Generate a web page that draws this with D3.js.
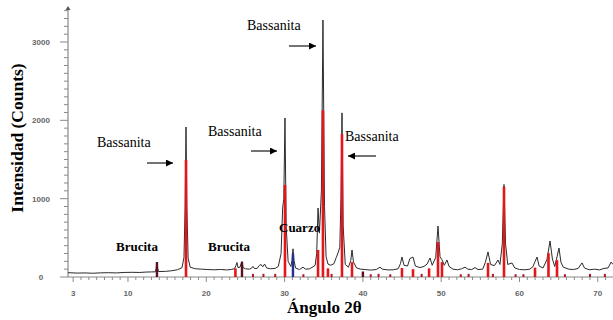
<!DOCTYPE html>
<html><head><meta charset="utf-8">
<script src="https://cdn.jsdelivr.net/npm/d3@7"></script>
<style>html,body{margin:0;padding:0;background:#fff;}svg{display:block;}</style>
</head><body>
<script>
// ---- data (angle 2θ, counts) ----
const xTicksLabeled = [3, 10, 20, 30, 40, 50, 60, 70];
const yTicksLabeled = [0, 1000, 2000, 3000];

const diffractogram = [
 [2.34,55],[3.5,50],[4.5,52],[5.5,48],[6.5,53],[7.5,55],[8.5,52],[9.5,58],[10.5,60],[11.5,58],[12.3,63],[13.0,65],[13.5,66],
 [13.6,110],[13.7,190],[13.8,110],[13.9,70],[14.8,72],[15.6,80],[16.3,92],[16.9,118],[17.15,250],[17.3,900],[17.41,1915],[17.52,900],[17.68,240],[17.95,125],
 [18.6,105],[19.4,100],[20.2,95],[21.0,92],[21.8,96],[22.6,90],[23.2,96],[23.6,105],[23.8,150],[23.92,185],[24.05,120],[24.3,125],[24.45,170],[24.56,200],[24.7,120],[25.0,105],
 [25.5,100],[25.8,115],[25.96,135],[26.15,108],[26.5,110],[26.8,150],[27.0,160],[27.2,130],[27.45,165],[27.7,115],[28.2,105],[28.8,110],[29.2,135],
 [29.55,300],[29.75,880],[29.9,1000],[30.05,2030],[30.2,650],[30.45,200],[30.8,135],[30.95,210],[31.07,360],[31.2,210],[31.4,115],
 [31.9,95],[32.35,125],[32.7,100],[33.2,105],[33.63,130],[33.9,150],[34.1,300],[34.27,880],[34.45,560],[34.7,1100],[34.9,3280],[35.1,900],[35.3,260],
 [35.54,165],[35.9,150],[36.3,170],[36.6,250],[36.82,305],[37.05,380],[37.2,1000],[37.33,2095],[37.48,650],[37.75,160],[38.15,125],[38.45,210],[38.61,345],[38.8,190],[39.2,115],
 [39.7,100],[40.3,95],[41.0,88],[41.7,95],[42.18,125],[42.5,100],[43.2,90],[43.9,92],[44.5,105],[44.8,170],[44.99,255],[45.25,150],[45.7,140],[46.0,235],[46.4,255],[46.7,140],
 [47.3,120],[47.8,135],[48.2,165],[48.57,243],[48.85,150],[49.3,250],[49.59,651],[49.85,260],[50.1,220],[50.4,150],[50.74,217],[51.0,135],[51.5,100],
 [52.1,92],[52.6,105],[53.04,125],[53.4,100],[53.9,95],[54.32,120],[54.7,95],[55.3,100],[55.65,190],[55.98,320],[56.3,160],[56.8,145],[57.25,217],[57.5,160],
 [57.8,420],[58.02,1180],[58.22,420],[58.5,160],[59.04,179],[59.4,115],[60.0,95],[60.7,92],[61.3,100],[61.7,130],[62.0,200],[62.24,255],[62.5,140],
 [63.0,115],[63.5,220],[63.9,460],[64.2,230],[64.5,135],[64.8,260],[65.04,370],[65.3,185],[65.6,125],[66.3,100],[66.9,95],[67.5,110],[67.98,180],[68.3,115],
 [68.9,92],[69.6,100],[70.2,90],[70.8,110],[71.3,115],[71.7,190],[71.94,160]
];

const bassaniteSticks = [
 [17.41,1495],[23.72,110],[30.05,1175],[34.27,345],[34.9,2130],[35.54,110],[37.33,1826],[38.61,190],
 [44.99,115],[46.4,100],[48.45,110],[49.59,447],[50.1,190],[55.98,180],[58.02,1150],[61.98,120],[63.7,305],[64.79,215]
];
const bruciteSticks = [[13.7,190],[24.56,190],[40.0,70]];
const quartzSticks = [[31.07,300]];
const minorSticks = [
 [25.96,40],[27.3,40],[28.8,40],[32.4,35],[36.0,40],[41.0,35],[42.0,40],[43.5,35],[47.5,40],[52.5,35],[53.5,40],
 [56.6,40],[59.5,35],[60.5,35],[65.8,35],[69.0,40],[70.9,40]
];

const annotations = [
 {text:"Bassanita", x:97, y:147, bold:false},
 {text:"Bassanita", x:247, y:30, bold:false},
 {text:"Bassanita", x:208, y:136, bold:false},
 {text:"Bassanita", x:345, y:141, bold:false},
 {text:"Brucita", x:116, y:251, bold:true},
 {text:"Brucita", x:208, y:251, bold:true},
 {text:"Cuarzo", x:279, y:232, bold:true}
];
const arrows = [
 {x1:147, x2:173, y:163},
 {x1:289, x2:316, y:46},
 {x1:251, x2:277, y:151},
 {x1:376, x2:348, y:156}
];

// ---- drawing ----
const W = 613, H = 320;
const svg = d3.select("body").append("svg").attr("width", W).attr("height", H);
svg.append("defs").append("marker")
  .attr("id","ah").attr("viewBox","0 0 10 10").attr("refX",10).attr("refY",5)
  .attr("markerWidth",7).attr("markerHeight",7).attr("markerUnits","userSpaceOnUse").attr("orient","auto")
  .append("path").attr("d","M0,0L10,5L0,10Z").attr("fill","#000");

const x = d3.scaleLinear().domain([2.34, 71.94]).range([68, 613]);
const y = d3.scaleLinear().domain([0, 3434]).range([277, 8]);

// axes
const axisColor = "#8a8a8a";
const xMinor = d3.range(3, 72, 1);
svg.append("g").selectAll("line").data(xMinor).join("line")
  .attr("x1", d => x(d)).attr("x2", d => x(d))
  .attr("y1", y(0)).attr("y2", d => y(0) + (xTicksLabeled.includes(d) ? 5 : 3))
  .attr("stroke", axisColor).attr("stroke-width", 1);
svg.append("line").attr("x1", 68).attr("x2", 613).attr("y1", y(0)).attr("y2", y(0)).attr("stroke", axisColor).attr("stroke-width", 1.2);
svg.append("g").selectAll("text").data(xTicksLabeled).join("text")
  .attr("x", d => x(d)).attr("y", 296).attr("text-anchor", "middle")
  .attr("font-family", "Liberation Sans, Arial, sans-serif").attr("font-size", 8).attr("font-weight", "bold")
  .attr("fill", "#666").text(d => d);

const yMinor = d3.range(0, 3401, 100);
svg.append("g").selectAll("line").data(yMinor).join("line")
  .attr("y1", d => y(d)).attr("y2", d => y(d))
  .attr("x1", d => 68 - (d % 1000 === 0 ? 8 : 4)).attr("x2", 68)
  .attr("stroke", axisColor).attr("stroke-width", 1);
svg.append("line").attr("x1", 68).attr("x2", 68).attr("y1", y(0)).attr("y2", 8).attr("stroke", axisColor).attr("stroke-width", 1.2);
svg.append("path").attr("d", "M65.5,10L68,6L70.5,10Z").attr("fill", "#555");
svg.append("g").selectAll("text").data(yTicksLabeled).join("text")
  .attr("x", 41).attr("y", d => y(d) + 3).attr("text-anchor", "middle")
  .attr("font-family", "Liberation Sans, Arial, sans-serif").attr("font-size", 8).attr("font-weight", "bold")
  .attr("fill", "#666").text(d => d);

// trace
const line = d3.line().x(d => x(d[0])).y(d => y(d[1]));
svg.append("path").datum(diffractogram).attr("d", line)
  .attr("fill", "none").attr("stroke", "#2b2b2b").attr("stroke-width", 1).attr("stroke-linejoin", "round");

function sticks(data, color, w) {
  svg.append("g").selectAll("rect").data(data).join("rect")
    .attr("x", d => x(d[0]) - w / 2).attr("width", w)
    .attr("y", d => y(d[1])).attr("height", d => y(0) - y(d[1]))
    .attr("fill", color);
}
sticks(minorSticks, "#b3142a", 2);
sticks(bassaniteSticks, "#e3161c", 2.6);
sticks(bruciteSticks, "#5a1020", 2.4);
sticks(quartzSticks, "#22308c", 2.4);

// annotations
svg.append("g").selectAll("text").data(annotations).join("text")
  .attr("x", d => d.x).attr("y", d => d.y)
  .attr("font-family", "Liberation Serif, Times New Roman, serif")
  .attr("font-size", d => d.bold ? 13 : 14)
  .attr("font-weight", d => d.bold ? "bold" : "normal")
  .attr("fill", "#000").text(d => d.text);
svg.append("g").selectAll("line").data(arrows).join("line")
  .attr("x1", d => d.x1).attr("x2", d => d.x2).attr("y1", d => d.y).attr("y2", d => d.y)
  .attr("stroke", "#000").attr("stroke-width", 1.1).attr("marker-end", "url(#ah)");

// axis titles
svg.append("text").attr("transform", "translate(23,138) rotate(-90)").attr("text-anchor", "middle")
  .attr("font-family", "Liberation Serif, Times New Roman, serif").attr("font-size", 17.5).attr("font-weight", "bold")
  .attr("fill", "#000").text("Intensidad (Counts)");
svg.append("text").attr("x", 287).attr("y", 313)
  .attr("font-family", "Liberation Serif, Times New Roman, serif").attr("font-size", 17).attr("font-weight", "bold")
  .attr("fill", "#000").text("Ángulo 2θ");
</script>
</body></html>
